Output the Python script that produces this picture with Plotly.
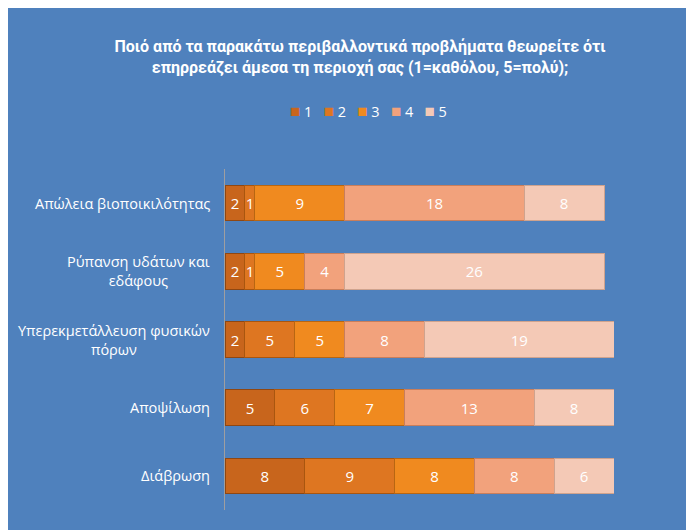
import plotly.graph_objects as go

# Κατηγορίες (από πάνω προς τα κάτω) και τιμές ανά βαθμό 1..5
categories = [
    "Απώλεια βιοποικιλότητας",
    "Ρύπανση υδάτων και<br>εδάφους",
    "Υπερεκμετάλλευση φυσικών<br>πόρων",
    "Αποψίλωση",
    "Διάβρωση",
]
series_names = ["1", "2", "3", "4", "5"]
s1 = [2, 2, 2, 5, 8]
s2 = [1, 1, 5, 6, 9]
s3 = [9, 5, 5, 7, 8]
s4 = [18, 4, 8, 13, 8]
s5 = [8, 26, 19, 8, 6]
series_values = [s1, s2, s3, s4, s5]

colors = ["#C8651C", "#DE7621", "#F08A1F", "#F2A27C", "#F4C9B6"]
edges = ["#8F4712", "#A9560F", "#B86612", "#C97E5B", "#CFA38E"]

# la page a une marge de 8px : coordonnées page -> figure
OFF = 8
W, H = 694 - OFF, 530 - OFF
L, R, T, B = 225 - OFF, 694 - 614, 169 - OFF, 20
pw, ph = W - L - R, H - T - B


def px_x(p):
    return (p - OFF - L) / pw


def px_y(p):
    return (H - B - (p - OFF)) / ph


fig = go.Figure()
for name, vals, c, e in zip(series_names, series_values, colors, edges):
    fig.add_trace(go.Bar(
        y=categories, x=vals, name=name, orientation="h",
        marker=dict(color=c, line=dict(color=e, width=1)),
        text=vals, textposition="inside", insidetextanchor="middle",
        textfont=dict(color="white", size=15, family="Open Sans"),
        constraintext="none",
        width=0.52,
        hoverinfo="skip",
        showlegend=False,
    ))

# étiquettes de catégorie centrées
for cat in categories:
    fig.add_annotation(
        x=px_x(212), xref="paper", y=cat, yref="y",
        xanchor="right", align="center", showarrow=False,
        text=cat, font=dict(color="white", size=14.5, family="Open Sans"),
    )

# légende compacte : carré coloré + libellé
nb = "\u00a0"
legend_text = (nb * 3).join(
    f"<span style='color:{c};font-size:17px'>■</span>{nb}{n}"
    for n, c in zip(series_names, colors)
)
fig.add_annotation(
    x=px_x(368), xref="paper", y=px_y(111), yref="paper",
    xanchor="center", yanchor="middle", showarrow=False,
    text=legend_text, font=dict(color="white", size=14.5, family="Open Sans"),
)

fig.update_layout(
    width=W, height=H,
    barmode="stack",
    paper_bgcolor="#4F81BD",
    plot_bgcolor="rgba(0,0,0,0)",
    margin=dict(l=L, r=R, t=T, b=B, pad=0),
    title=dict(
        text="<b>Ποιό από τα παρακάτω περιβαλλοντικά προβλήματα θεωρείτε ότι<br>"
             "επηρρεάζει άμεσα τη περιοχή σας (1=καθόλου, 5=πολύ);</b>",
        x=(360 - OFF) / W, xanchor="center", y=1 - (52 - OFF) / H, yanchor="middle",
        font=dict(color="white", size=16, family="Roboto"),
    ),
    showlegend=False,
)
fig.update_xaxes(range=[0, 39], visible=False, showgrid=False, zeroline=False)
fig.update_yaxes(autorange="reversed", showticklabels=False, showgrid=False,
                 showline=True, linecolor="rgba(214,178,140,0.6)", linewidth=1, ticks="")

fig.write_html("out.html")
